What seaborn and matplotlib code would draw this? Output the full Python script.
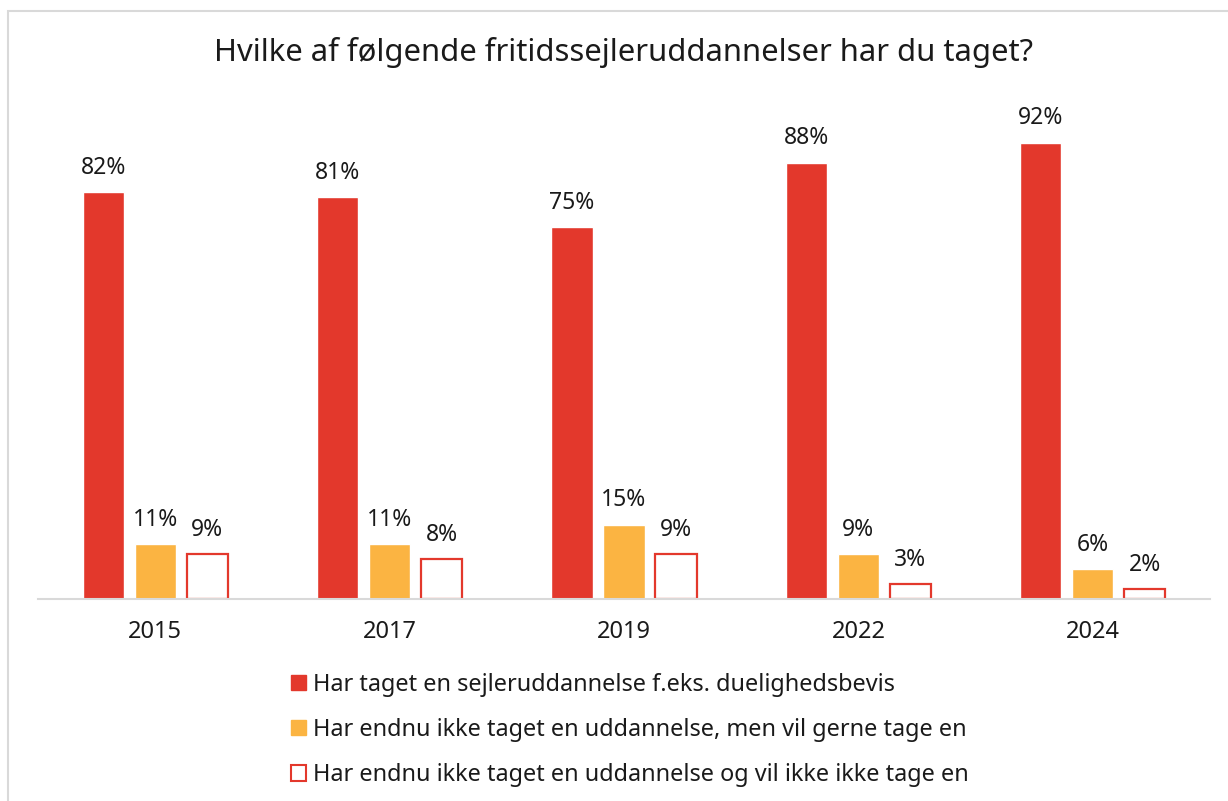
import matplotlib
matplotlib.use("Agg")
import matplotlib.pyplot as plt
from matplotlib.patches import Patch, Rectangle
import seaborn as sns
import pandas as pd

years = ["2015", "2017", "2019", "2022", "2024"]
series = [
    "Har taget en sejleruddannelse f.eks. duelighedsbevis",
    "Har endnu ikke taget en uddannelse, men vil gerne tage en",
    "Har endnu ikke taget en uddannelse og vil ikke ikke tage en",
]
taget = [82, 81, 75, 88, 92]
vil_gerne = [11, 11, 15, 9, 6]
vil_ikke = [9, 8, 9, 3, 2]

red = "#E3382C"
yellow = "#FBB442"

df = pd.DataFrame({
    "year": years * 3,
    "serie": [series[0]] * 5 + [series[1]] * 5 + [series[2]] * 5,
    "pct": taget + vil_gerne + vil_ikke,
})

sns.set_theme(style="white")
plt.rcParams["font.family"] = ["Noto Sans", "DejaVu Sans"]

fig = plt.figure(figsize=(12.28, 8.01), dpi=100)
ax = fig.add_axes([38 / 1228, 1 - 599 / 801, 1172 / 1228, 496 / 801])

sns.barplot(data=df, x="year", y="pct", hue="serie", hue_order=series,
            palette=[red, yellow, "white"], width=0.666, gap=0.21,
            legend=False, ax=ax, saturation=1)

# hollow third series gets a red outline
for bar in ax.containers[2]:
    bar.set_edgecolor(red)
    bar.set_linewidth(1.6)
for cont in ax.containers:
    for bar in cont:
        h = bar.get_height()
        ax.annotate(f"{h:.0f}%", (bar.get_x() + bar.get_width() / 2, h),
                    xytext=(0, 9), textcoords="offset points",
                    ha="center", va="bottom", fontsize=16.5, color="#1a1a1a")

ax.set_xlim(-0.5, 4.5)
ax.set_ylim(0, 100)
ax.set_yticks([])
ax.set_xlabel("")
ax.set_ylabel("")
sns.despine(ax=ax, left=True)
ax.spines["bottom"].set_color("#d9d9d9")
ax.spines["bottom"].set_linewidth(1.5)
ax.tick_params(axis="x", length=0, pad=15, labelsize=17, labelcolor="#1a1a1a")

fig.text(624 / 1228, 1 - 52 / 801, "Hvilke af følgende fritidssejleruddannelser har du taget?",
         ha="center", va="center", fontsize=22.3, color="#1a1a1a")

handles = [Patch(facecolor=red, edgecolor=red),
           Patch(facecolor=yellow, edgecolor=yellow),
           Patch(facecolor="white", edgecolor=red, linewidth=1.5)]
fig.legend(handles, series, loc="upper left", bbox_to_anchor=(291 / 1228, 1 - 673 / 801),
           frameon=False, fontsize=16.9, handlelength=0.62, handleheight=0.62,
           handletextpad=0.3, labelspacing=0.9, borderaxespad=0, borderpad=0,
           labelcolor="#1a1a1a")

# light frame around the chart area
fig.patches.append(Rectangle((8 / 1228, -0.01), 1.1, 1 - 11 / 801 + 0.01,
                             transform=fig.transFigure, fill=False,
                             edgecolor="#d9d9d9", linewidth=1.5))

fig.savefig("out.png", dpi=100, facecolor="white")
